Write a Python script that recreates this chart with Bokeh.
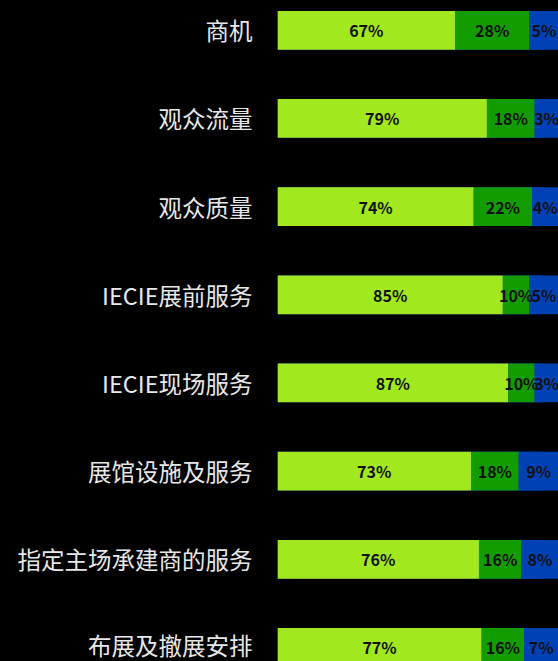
from bokeh.plotting import figure
from bokeh.models import ColumnDataSource, Range1d, FixedTicker
from bokeh.core.properties import value
from bokeh.embed import file_html
from bokeh.resources import INLINE

# ---- data ----
categories = ["商机", "观众流量", "观众质量", "IECIE展前服务", "IECIE现场服务",
              "展馆设施及服务", "指定主场承建商的服务", "布展及撤展安排"]
series_high = [67, 79, 74, 85, 87, 73, 76, 77]
series_mid = [28, 18, 22, 10, 10, 18, 16, 16]
series_low = [5, 3, 4, 5, 3, 9, 8, 7]

LIME = "#A2E81E"
GREEN = "#129C00"
BLUE = "#0042B5"
XEND = 106

idx = list(range(len(categories)))
cum2 = [a + b for a, b in zip(series_high, series_mid)]

src = ColumnDataSource(dict(
    y=idx, high=series_high, mid=series_mid, low=series_low,
    x_high=[a / 2 for a in series_high],
    x_mid=[a + b / 2 for a, b in zip(series_high, series_mid)],
    x_low=[(c + XEND) / 2 for c in cum2],
    t_high=[f"{v}%" for v in series_high],
    t_mid=[f"{v}%" for v in series_mid],
    t_low=[f"{v}%" for v in series_low],
    zero=[0] * len(idx), end=[XEND] * len(idx),
))

p = figure(width=558, height=661, x_range=Range1d(0, XEND),
           y_range=Range1d(7.159, -0.338),
           output_backend="svg", toolbar_location=None,
           min_border_left=277, min_border_right=0, min_border_top=0, min_border_bottom=0,
           x_axis_location=None)
p.background_fill_color = "#000000"
p.border_fill_color = "#000000"
p.outline_line_color = None
p.grid.visible = False

# blue track filling to the right edge, then the stacked bars
p.hbar(y="y", left="zero", right="end", height=0.44, fill_color=BLUE, line_color=None, source=src)
p.hbar_stack(["high", "mid", "low"], y="y", height=0.44,
             fill_color=[LIME, GREEN, BLUE], line_color=None, source=src)

for xc, tc in (("x_high", "t_high"), ("x_mid", "t_mid"), ("x_low", "t_low")):
    p.text(x=xc, y="y", text=tc, source=src, text_align="center",
           text_baseline="middle", text_color="#111111",
           text_font=value("Noto Sans CJK SC"), text_font_size="16px",
           text_font_style="bold")

ax = p.yaxis[0]
ax.ticker = FixedTicker(ticks=idx)
ax.major_label_overrides = {i: c for i, c in zip(idx, categories)}
ax.axis_line_color = None
ax.major_tick_line_color = None
ax.minor_tick_line_color = None
ax.major_tick_out = 0
ax.major_tick_in = 0
ax.major_label_standoff = 25
ax.major_label_text_font = "Noto Sans CJK SC"
ax.major_label_text_font_size = "23.5px"
ax.major_label_text_color = "#E8E8E8"

html = file_html(p, INLINE)
html = html.replace("</head>", "<style>html,body{background:#000000;}</style></head>", 1)
open("out.html", "w").write(html)
